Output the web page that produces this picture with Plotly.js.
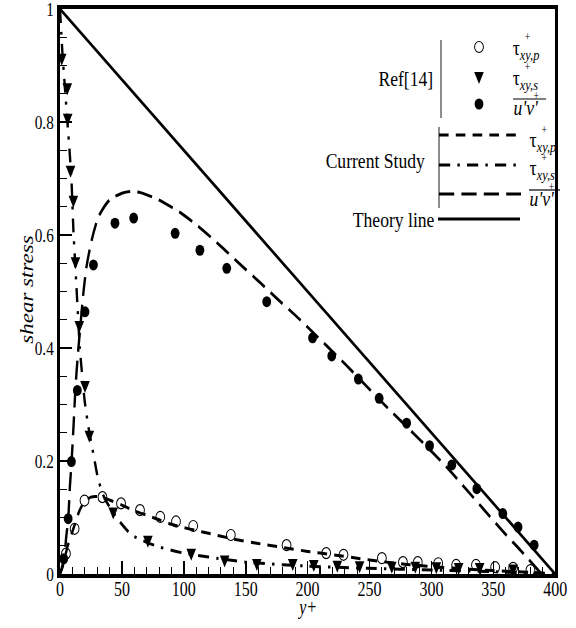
<!DOCTYPE html>
<html>
<head>
<meta charset="utf-8">
<script src="https://cdn.plot.ly/plotly-3.0.1.min.js"></script>
<style>
  html, body { margin: 0; padding: 0; overflow: hidden; background: #fff; width: 576px; height: 628px; }
  #wrap { width: 576px; height: 628px; overflow: hidden; }
  #chart { width: 720px; height: 628px; transform-origin: 0 0; }
</style>
</head>
<body>
<div id="wrap"><div id="chart"></div></div>
<script>
// ---- axis ticks ----
const xTickVals = [0, 50, 100, 150, 200, 250, 300, 350, 400];
const xTickText = ['0', '50', '100', '150', '200', '250', '300', '350', '400'];
const yTickVals = [0, 0.2, 0.4, 0.6, 0.8, 1];
const yTickText = ['0', '0.2', '0.4', '0.6', '0.8', '1'];

// ---- Ref[14] symbols ----
const refTauPX = [4.8, 11.8, 19.8, 34.3, 49.3, 64.6, 81, 93.7, 107.6, 138, 183, 215, 229, 260, 277, 289, 305.5, 320, 336, 351.5, 366, 380];
const refTauPY = [0.036, 0.080, 0.130, 0.136, 0.125, 0.113, 0.101, 0.093, 0.085, 0.069, 0.051, 0.037, 0.034, 0.028, 0.021, 0.021, 0.019, 0.016, 0.016, 0.012, 0.011, 0.007];

const refTauSX = [1.4, 5.9, 6.2, 8.5, 10.8, 12.5, 15.6, 20.2, 23.7, 43, 71, 106, 133, 159, 188, 205, 224, 242, 268, 287, 304, 322, 339, 366];
const refTauSY = [0.910, 0.858, 0.804, 0.712, 0.659, 0.550, 0.437, 0.331, 0.243, 0.107, 0.057, 0.034, 0.022, 0.016, 0.016, 0.014, 0.013, 0.012, 0.011, 0.011, 0.010, 0.009, 0.009, 0.006];

const refUVX = [3, 6.6, 9.2, 14, 20.2, 27, 44.4, 59.5, 93, 113, 134.7, 167, 204, 219.5, 241, 257.8, 280, 298.5, 316.5, 336.7, 357.7, 370, 383];
const refUVY = [0.027, 0.098, 0.199, 0.325, 0.464, 0.547, 0.621, 0.630, 0.603, 0.573, 0.541, 0.482, 0.418, 0.386, 0.345, 0.311, 0.267, 0.227, 0.193, 0.151, 0.107, 0.083, 0.051];

// ---- current study profiles ----
const curTauPX = [0, 2, 4, 6, 8, 10, 12, 15, 18, 21, 25, 30, 35, 40, 50, 60, 70, 80, 90, 100, 110, 120, 140, 160, 180, 200, 220, 240, 260, 280, 300, 320, 340, 360, 380, 400];
const curTauPY = [0, 0.012, 0.03, 0.048, 0.062, 0.075, 0.088, 0.108, 0.122, 0.131, 0.136, 0.137, 0.135, 0.131, 0.122, 0.112, 0.104, 0.096, 0.088, 0.082, 0.077, 0.072, 0.062, 0.054, 0.047, 0.040, 0.034, 0.028, 0.022, 0.017, 0.013, 0.010, 0.007, 0.005, 0.003, 0];

const curTauSX = [0, 1, 2, 4, 6, 8, 9.4, 10.8, 12, 13.5, 16, 18, 20, 23, 28, 31, 36, 42, 47, 58, 70, 80, 90, 100, 120, 150, 200, 250, 300, 350, 400];
const curTauSY = [1, 0.96, 0.92, 0.86, 0.80, 0.74, 0.69, 0.61, 0.56, 0.50, 0.40, 0.35, 0.305, 0.26, 0.20, 0.166, 0.134, 0.112, 0.096, 0.069, 0.056, 0.048, 0.042, 0.037, 0.030, 0.021, 0.014, 0.010, 0.007, 0.004, 0];

const curUVX = [0, 2, 3.5, 5, 6.7, 8, 9.4, 11, 12.5, 14.5, 16.5, 19, 21.5, 25.6, 31, 40, 50, 57, 65, 78, 97, 113, 129, 145, 162, 175, 191, 200, 231, 261, 291, 312, 340, 360, 372, 389];
const curUVY = [0, 0.015, 0.03, 0.065, 0.10, 0.155, 0.20, 0.265, 0.33, 0.39, 0.44, 0.50, 0.545, 0.591, 0.632, 0.662, 0.674, 0.677, 0.675, 0.664, 0.640, 0.613, 0.582, 0.549, 0.515, 0.488, 0.456, 0.437, 0.370, 0.302, 0.237, 0.190, 0.120, 0.070, 0.042, 0];

const theoryX = [0, 400];
const theoryY = [1, 0];

// ---- figure geometry ----
const SX = 0.8;                       // horizontal squeeze of the finished figure
const FIG_W = 720, FIG_H = 628;
const M = { l: 75, r: 26, t: 9, b: 54 };
const plotW = FIG_W - M.l - M.r;
const plotH = FIG_H - M.t - M.b;
const FONT = 'Liberation Serif, Times New Roman, serif';

// screen pixel (after squeeze) -> paper coordinates
function paper(px, py) {
  return { x: (px / SX - M.l) / plotW, y: (FIG_H - M.b - py) / plotH };
}

const DASH_P = '12px,9px';
const DASH_S = '14px,9px,3px,9px';
const DASH_UV = '19px,9px';

function lineTrace(x, y, dash, smooth) {
  const t = { x: x, y: y, type: 'scatter', mode: 'lines', hoverinfo: 'skip',
              line: { color: '#000', width: 3, dash: dash } };
  if (smooth) { t.line.shape = 'spline'; t.line.smoothing = 0.6; }
  return t;
}
function markTrace(x, y, marker) {
  return { x: x, y: y, type: 'scatter', mode: 'markers', hoverinfo: 'skip',
           cliponaxis: false, marker: marker };
}

const data = [
  lineTrace(theoryX, theoryY, 'solid'),
  lineTrace(curTauPX, curTauPY, DASH_P, true),
  lineTrace(curTauSX, curTauSY, DASH_S, true),
  lineTrace(curUVX, curUVY, DASH_UV, true),
  markTrace(refTauPX, refTauPY, { symbol: 'circle-open', size: 11, color: '#000', line: { width: 1.2, color: '#000' } }),
  markTrace(refTauSX, refTauSY, { symbol: 'arrow-down', size: 12, color: '#000', standoff: 6, line: { width: 0 } }),
  markTrace(refUVX, refUVY, { symbol: 'circle', size: 11, color: '#000', line: { width: 0 } })
];

// ---- hand-built key ----
const shapes = [];
const annotations = [];

function seg(x0, y0, x1, y1, width, dash) {
  const a = paper(x0, y0), b = paper(x1, y1);
  shapes.push({ type: 'line', xref: 'paper', yref: 'paper', x0: a.x, y0: a.y, x1: b.x, y1: b.y,
                line: { color: '#000', width: width, dash: dash || 'solid' } });
}
function dot(px, py, filled) {
  const c = paper(px, py), rx = 5.5 / plotW, ry = 5.5 / plotH;
  shapes.push({ type: 'circle', xref: 'paper', yref: 'paper',
                x0: c.x - rx, x1: c.x + rx, y0: c.y - ry, y1: c.y + ry,
                fillcolor: filled ? '#000' : 'rgba(0,0,0,0)', line: { color: '#000', width: filled ? 0 : 1.2 } });
}
function tri(px, py) {
  const c = paper(px, py), rx = 6 / plotW, ry = 6 / plotH;
  shapes.push({ type: 'path', xref: 'paper', yref: 'paper',
                path: 'M' + (c.x - rx) + ',' + (c.y + ry) + ' L' + (c.x + rx) + ',' + (c.y + ry) + ' L' + c.x + ',' + (c.y - ry) + ' Z',
                fillcolor: '#000', line: { width: 0 } });
}
function label(px, py, text, size, anchor, extra) {
  const p = paper(px, py);
  annotations.push(Object.assign({ xref: 'paper', yref: 'paper', x: p.x, y: p.y, text: text, showarrow: false,
                    xanchor: anchor || 'left', yanchor: 'middle',
                    font: { family: FONT, size: size, color: '#000' } }, extra || {}));
}

const tauP = 'τ<sub><i>xy,p</i></sub>';
const tauS = 'τ<sub><i>xy,s</i></sub>';
const uv = "<i>u'v'</i>";

// Ref[14] group
seg(441, 40, 441, 118, 1);
label(434, 79, 'Ref[14]', 22, 'right');
dot(479, 47, false);
tri(479, 78);
dot(479, 104, true);
label(511, 49, tauP, 22);
label(523, 37, '+', 12);
label(511, 79, tauS, 22);
label(523, 67, '+', 12);
label(512, 107, uv, 22);
seg(513, 99, 546, 99, 1.2);
label(532, 96, '+', 12);

// Current Study group
seg(439, 127, 439, 208, 1);
label(426, 160, 'Current Study', 22, 'right');
seg(439, 135, 521, 135, 3, DASH_P);
seg(439, 165, 521, 165, 3, DASH_S);
seg(439, 194, 521, 194, 3, DASH_UV);
label(528, 141, tauP, 22);
label(540, 130, '+', 12);
label(528, 169, tauS, 22);
label(540, 158, '+', 12);
label(528, 198, uv, 22);
seg(529, 190, 560, 190, 1.2);
label(547, 187, '+', 12);

// Theory line
label(436, 219, 'Theory line', 22, 'right');
seg(438, 219, 520, 219, 3);

// axis titles
label(27, 290, '<i>shear stress</i>', 23, 'center', { textangle: -90 });
label(307, 607, '<i>y+</i>', 20, 'center');

const axisCommon = {
  showline: true, linewidth: 4, linecolor: '#000', mirror: true,
  showgrid: false, zeroline: false, ticks: 'inside', tickcolor: '#000',
  tickmode: 'array', ticklabeloverflow: 'allow',
  tickfont: { family: FONT, size: 20, color: '#000' }
};

const layout = {
  width: FIG_W, height: FIG_H, margin: M,
  paper_bgcolor: '#fff', plot_bgcolor: '#fff',
  font: { family: FONT, color: '#000' },
  showlegend: false,
  xaxis: Object.assign({}, axisCommon, {
    range: [0, 400], tickvals: xTickVals, ticktext: xTickText,
    ticklen: 13, tickwidth: 2, ticklabelstandoff: -6,
    minor: { dtick: 10, tick0: 0, ticks: 'inside', ticklen: 7, tickwidth: 1.3, tickcolor: '#000', showgrid: false }
  }),
  yaxis: Object.assign({}, axisCommon, {
    range: [0, 1], tickvals: yTickVals, ticktext: yTickText,
    ticklen: 15, tickwidth: 2, tickfont: { family: FONT, size: 19, color: '#000' },
    minor: { dtick: 0.05, tick0: 0, ticks: 'inside', ticklen: 9, tickwidth: 1.3, tickcolor: '#000', showgrid: false }
  }),
  shapes: shapes,
  annotations: annotations
};

const gd = document.getElementById('chart');
Plotly.newPlot(gd, data, layout, { staticPlot: true, displayModeBar: false }).then(function () {
  gd.style.transform = 'scaleX(' + SX + ')';
});
</script>
</body>
</html>
